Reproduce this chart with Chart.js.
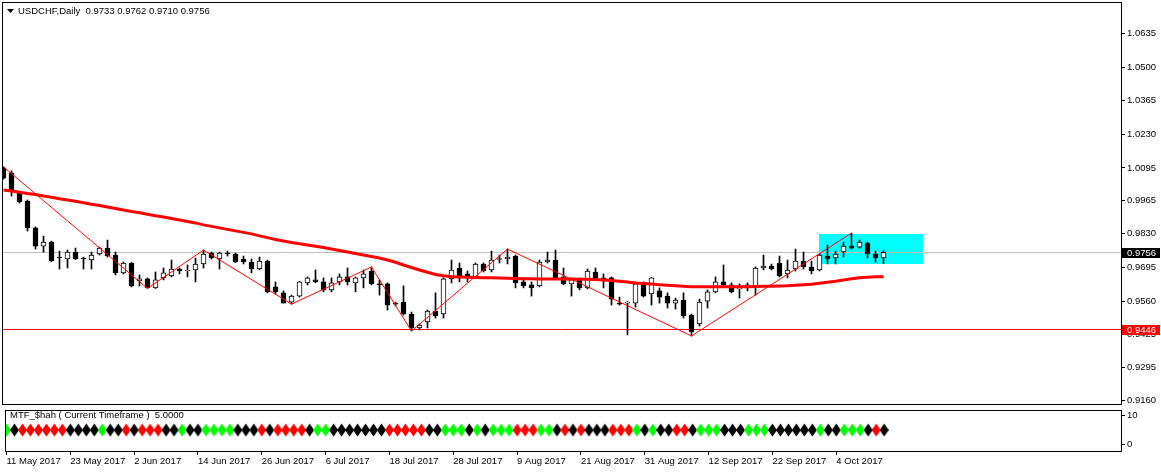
<!DOCTYPE html>
<html>
<head>
<meta charset="utf-8">
<script src="https://cdn.jsdelivr.net/npm/chart.js@4.4.1/dist/chart.umd.min.js"></script>
<style>
  html, body { margin: 0; padding: 0; background: #fff; }
  #wrap { position: relative; width: 1161px; height: 472px; overflow: hidden; background: #fff; }
  #main { position: absolute; left: 0; top: 0; }
  #sub { position: absolute; left: 0; top: 405px; }
</style>
</head>
<body>
<div id="wrap">
  <canvas id="main" width="1161" height="405"></canvas>
  <canvas id="sub" width="1161" height="67"></canvas>
</div>
<script>
// USDCHF daily bars, 11 May 2017 .. 12 Oct 2017
const open = [
  1.0095, 1.0075, 0.9994, 0.9962, 0.9854, 0.9781, 0.9797, 0.9735, 0.9729, 0.9757,
  0.9730, 0.9725, 0.9749, 0.9773, 0.9745, 0.9673, 0.9713, 0.9641, 0.9649, 0.9613,
  0.9653, 0.9661, 0.9689, 0.9681, 0.9685, 0.9709, 0.9753, 0.9729, 0.9753, 0.9749,
  0.9729, 0.9717, 0.9689, 0.9721, 0.9617, 0.9593, 0.9556, 0.9580, 0.9633, 0.9645,
  0.9637, 0.9605, 0.9637, 0.9657, 0.9633, 0.9653, 0.9681, 0.9629, 0.9629, 0.9552,
  0.9556, 0.9508, 0.9452, 0.9476, 0.9520, 0.9508, 0.9649, 0.9693, 0.9669, 0.9657,
  0.9709, 0.9685, 0.9727, 0.9729, 0.9741, 0.9637, 0.9625, 0.9621, 0.9717, 0.9725,
  0.9657, 0.9629, 0.9645, 0.9613, 0.9677, 0.9653, 0.9653, 0.9552, 0.9552, 0.9552,
  0.9633, 0.9589, 0.9601, 0.9580, 0.9552, 0.9564, 0.9504, 0.9468, 0.9560, 0.9597,
  0.9637, 0.9625, 0.9609, 0.9613, 0.9621, 0.9693, 0.9701, 0.9713, 0.9669, 0.9689,
  0.9721, 0.9697, 0.9685, 0.9741, 0.9733, 0.9757, 0.9781, 0.9777, 0.9793, 0.9749,
  0.9733
];
const high = [
  1.0099, 1.0083, 0.9998, 0.9966, 0.9858, 0.9821, 0.9801, 0.9761, 0.9765, 0.9773,
  0.9737, 0.9757, 0.9777, 0.9805, 0.9757, 0.9717, 0.9715, 0.9665, 0.9653, 0.9677,
  0.9693, 0.9725, 0.9693, 0.9705, 0.9733, 0.9765, 0.9757, 0.9757, 0.9761, 0.9753,
  0.9741, 0.9729, 0.9737, 0.9725, 0.9637, 0.9601, 0.9584, 0.9639, 0.9657, 0.9685,
  0.9653, 0.9653, 0.9669, 0.9693, 0.9657, 0.9685, 0.9697, 0.9645, 0.9633, 0.9556,
  0.9621, 0.9516, 0.9468, 0.9524, 0.9593, 0.9653, 0.9725, 0.9713, 0.9681, 0.9713,
  0.9713, 0.9761, 0.9745, 0.9769, 0.9745, 0.9645, 0.9637, 0.9725, 0.9757, 0.9765,
  0.9693, 0.9653, 0.9653, 0.9689, 0.9693, 0.9669, 0.9657, 0.9576, 0.9558, 0.9637,
  0.9637, 0.9655, 0.9613, 0.9593, 0.9572, 0.9593, 0.9508, 0.9568, 0.9605, 0.9657,
  0.9705, 0.9633, 0.9629, 0.9633, 0.9697, 0.9745, 0.9709, 0.9741, 0.9725, 0.9769,
  0.9757, 0.9721, 0.9749, 0.9785, 0.9761, 0.9797, 0.9833, 0.9805, 0.9797, 0.9761,
  0.9762
];
const low = [
  1.0050, 0.9982, 0.9954, 0.9841, 0.9769, 0.9757, 0.9719, 0.9689, 0.9693, 0.9727,
  0.9689, 0.9689, 0.9745, 0.9737, 0.9665, 0.9669, 0.9617, 0.9621, 0.9611, 0.9611,
  0.9645, 0.9657, 0.9669, 0.9657, 0.9637, 0.9693, 0.9729, 0.9689, 0.9741, 0.9715,
  0.9709, 0.9673, 0.9685, 0.9593, 0.9589, 0.9552, 0.9548, 0.9576, 0.9625, 0.9633,
  0.9597, 0.9597, 0.9625, 0.9625, 0.9597, 0.9613, 0.9625, 0.9584, 0.9524, 0.9540,
  0.9504, 0.9440, 0.9444, 0.9452, 0.9492, 0.9492, 0.9633, 0.9637, 0.9637, 0.9653,
  0.9677, 0.9677, 0.9713, 0.9709, 0.9613, 0.9613, 0.9580, 0.9617, 0.9713, 0.9649,
  0.9625, 0.9580, 0.9605, 0.9609, 0.9645, 0.9613, 0.9544, 0.9544, 0.9424, 0.9536,
  0.9576, 0.9544, 0.9552, 0.9532, 0.9528, 0.9492, 0.9420, 0.9460, 0.9532, 0.9593,
  0.9617, 0.9593, 0.9572, 0.9601, 0.9584, 0.9685, 0.9685, 0.9657, 0.9653, 0.9681,
  0.9689, 0.9669, 0.9681, 0.9709, 0.9709, 0.9737, 0.9769, 0.9773, 0.9733, 0.9717,
  0.9710
];
const close = [
  1.0054, 1.0006, 0.9958, 0.9854, 0.9781, 0.9797, 0.9721, 0.9733, 0.9757, 0.9729,
  0.9729, 0.9745, 0.9773, 0.9741, 0.9673, 0.9713, 0.9621, 0.9649, 0.9613, 0.9645,
  0.9673, 0.9689, 0.9681, 0.9683, 0.9709, 0.9749, 0.9733, 0.9753, 0.9749, 0.9717,
  0.9717, 0.9689, 0.9721, 0.9597, 0.9597, 0.9552, 0.9580, 0.9637, 0.9653, 0.9637,
  0.9605, 0.9633, 0.9657, 0.9637, 0.9653, 0.9669, 0.9629, 0.9625, 0.9544, 0.9548,
  0.9508, 0.9452, 0.9464, 0.9520, 0.9500, 0.9649, 0.9685, 0.9661, 0.9653, 0.9709,
  0.9681, 0.9725, 0.9729, 0.9737, 0.9633, 0.9621, 0.9613, 0.9717, 0.9725, 0.9653,
  0.9629, 0.9645, 0.9613, 0.9681, 0.9653, 0.9649, 0.9568, 0.9548, 0.9556, 0.9629,
  0.9580, 0.9653, 0.9576, 0.9552, 0.9564, 0.9500, 0.9436, 0.9556, 0.9597, 0.9637,
  0.9625, 0.9597, 0.9613, 0.9625, 0.9693, 0.9701, 0.9689, 0.9661, 0.9685, 0.9721,
  0.9697, 0.9681, 0.9745, 0.9729, 0.9749, 0.9781, 0.9773, 0.9797, 0.9749, 0.9733,
  0.9756
];
// moving average (thick red line)
const movingAvg = [
  1.0006, 1.0002, 0.9997, 0.9992, 0.9988, 0.9982, 0.9977, 0.9971, 0.9966, 0.9961,
  0.9955, 0.9949, 0.9944, 0.9938, 0.9932, 0.9926, 0.9920, 0.9915, 0.9909, 0.9903,
  0.9898, 0.9892, 0.9886, 0.9880, 0.9874, 0.9866, 0.9860, 0.9854, 0.9848, 0.9842,
  0.9836, 0.9830, 0.9822, 0.9815, 0.9807, 0.9801, 0.9795, 0.9790, 0.9785, 0.9780,
  0.9775, 0.9769, 0.9763, 0.9757, 0.9751, 0.9745, 0.9739, 0.9733, 0.9725, 0.9716,
  0.9705, 0.9695, 0.9685, 0.9676, 0.9667, 0.9662, 0.9658, 0.9657, 0.9656, 0.9655,
  0.9654, 0.9654, 0.9653, 0.9652, 0.9651, 0.9650, 0.9650, 0.9649, 0.9649, 0.9649,
  0.9649, 0.9649, 0.9648, 0.9648, 0.9647, 0.9645, 0.9643, 0.9640, 0.9637, 0.9633,
  0.9631, 0.9629, 0.9626, 0.9624, 0.9622, 0.9620, 0.9618, 0.9618, 0.9618, 0.9618,
  0.9618, 0.9618, 0.9618, 0.9618, 0.9619, 0.9620, 0.9620, 0.9621, 0.9622, 0.9624,
  0.9626, 0.9628, 0.9632, 0.9636, 0.9640, 0.9645, 0.9650, 0.9654, 0.9656, 0.9658,
  0.9658
];
// zigzag turning bars and whether they sit on the high or the low
const zigzagBars = [0, 18, 25, 36, 46, 51, 63, 86, 106];
const zigzagSide = ['h', 'l', 'h', 'l', 'h', 'l', 'h', 'l', 'h'];

// MTF_$hah signal per bar: g = green, r = red, k = black
const signalColors = [
  'g','k','r','r','r','r','r','r','k','k',
  'k','k','g','k','k','r','k','r','r','r',
  'k','k','g','k','k','g','g','g','g','k',
  'k','k','r','k','r','r','r','r','k','g',
  'g','k','k','k','k','k','k','k','r','r',
  'r','r','r','k','k','g','g','g','k','g',
  'k','g','g','g','r','r','r','g','g','k',
  'r','k','r','k','k','k','r','r','r','g',
  'k','g','k','k','r','r','k','g','g','g',
  'k','k','k','g','g','g','k','k','k','k',
  'k','k','g','k','k','g','g','g','k','r',
  'k'
];
const signalLevel = 5;

const priceTicks = [0.9160, 0.9295, 0.9425, 0.9560, 0.9695, 0.9830, 0.9965, 1.0095, 1.0230, 1.0365, 1.0500, 1.0635];
const subTicks = [0, 10];
const dateTicks = [0, 8, 16, 24, 32, 40, 48, 56, 64, 72, 80, 88, 96, 104];
const dateLabels = ['11 May 2017', '23 May 2017', '2 Jun 2017', '14 Jun 2017', '26 Jun 2017', '6 Jul 2017',
  '18 Jul 2017', '28 Jul 2017', '9 Aug 2017', '21 Aug 2017', '31 Aug 2017', '12 Sep 2017', '22 Sep 2017', '4 Oct 2017'];

const bidPrice = 0.9756;
const levelPrice = 0.9446;
const boxBars = [101.9, 114.9];
const boxPrices = [0.9708, 0.9830];

const symbolTitle = 'USDCHF,Daily';
const subTitle = 'MTF_$hah ( Current Timeframe )';

// view window: 8 px per bar
const xMin = -0.1875, xMax = 139.6875;
const FONT = '"Liberation Sans", Arial, "DejaVu Sans", sans-serif';

Chart.defaults.font.family = FONT;
Chart.defaults.font.size = 9.5;
Chart.defaults.color = '#000';

const last = close.length - 1;
const idx = close.map((_, i) => i);
const isUp = idx.map(i => close[i] >= open[i]);

// keep the plot frame where it is: no extra room for half tick labels
function noPad(s) {
  s.paddingTop = 0; s.paddingBottom = 0; s.paddingLeft = 0; s.paddingRight = 0;
}

function hline(ctx, area, yp) {
  const yy = Math.round(yp) + 0.5;
  ctx.beginPath();
  ctx.moveTo(area.left, yy);
  ctx.lineTo(area.right, yy);
  ctx.stroke();
}

function axisBox(ctx, area, yp, bg, text) {
  const y0 = Math.round(yp) - 4;
  ctx.fillStyle = bg;
  ctx.fillRect(area.right + 1, y0, 38, 10);
  ctx.fillStyle = '#fff';
  ctx.textBaseline = 'middle';
  ctx.textAlign = 'left';
  ctx.fillText(text, area.right + 6, y0 + 5);
}

const mainDecor = {
  id: 'mainDecor',
  beforeDatasetsDraw(chart) {
    const { ctx, chartArea: a, scales: { x, y } } = chart;
    ctx.save();
    const bx0 = Math.round(x.getPixelForValue(boxBars[0]));
    const bx1 = Math.round(x.getPixelForValue(boxBars[1]));
    const by0 = Math.round(y.getPixelForValue(boxPrices[1]));
    const by1 = Math.round(y.getPixelForValue(boxPrices[0]));
    ctx.fillStyle = '#00ffff';
    ctx.fillRect(bx0, by0, bx1 - bx0, by1 - by0);
    ctx.lineWidth = 1;
    ctx.strokeStyle = '#c0c0c0';
    hline(ctx, a, y.getPixelForValue(bidPrice));
    ctx.strokeStyle = '#ff0000';
    hline(ctx, a, y.getPixelForValue(levelPrice));
    ctx.restore();
  },
  afterDraw(chart) {
    const { ctx, chartArea: a, scales: { y } } = chart;
    ctx.save();
    ctx.strokeStyle = '#000';
    ctx.lineWidth = 1;
    ctx.strokeRect(a.left + 0.5, a.top + 0.5, a.right - a.left, a.bottom - a.top);

    // title with the last bar's OHLC
    ctx.fillStyle = '#000';
    ctx.beginPath();
    ctx.moveTo(7, 9); ctx.lineTo(14, 9); ctx.lineTo(10.5, 13);
    ctx.closePath(); ctx.fill();
    ctx.font = '9.5px ' + FONT;
    ctx.textBaseline = 'middle';
    ctx.textAlign = 'left';
    const ohlc = [open[last], high[last], low[last], close[last]].map(v => v.toFixed(4)).join(' ');
    ctx.fillText(symbolTitle + '  ' + ohlc, 18, 11);

    axisBox(ctx, a, y.getPixelForValue(bidPrice), '#000', bidPrice.toFixed(4));
    axisBox(ctx, a, y.getPixelForValue(levelPrice), '#ff0000', levelPrice.toFixed(4));
    ctx.restore();
  }
};

new Chart(document.getElementById('main'), {
  type: 'bar',
  data: {
    datasets: [
      {
        label: 'wick',
        data: idx.map(i => ({ x: i, y: [low[i], high[i]] })),
        backgroundColor: '#000',
        borderWidth: 0,
        barThickness: 1,
        grouped: false,
        order: 3
      },
      {
        label: 'body',
        data: idx.map(i => ({ x: i, y: [open[i], close[i]] })),
        backgroundColor: idx.map(i => isUp[i] ? '#fff' : '#000'),
        borderColor: '#000',
        borderWidth: 1,
        borderSkipped: false,
        barThickness: 5,
        minBarLength: 1,
        grouped: false,
        order: 2
      },
      {
        type: 'line',
        label: 'MA',
        data: idx.map(i => ({ x: i, y: movingAvg[i] })),
        borderColor: '#ff0000',
        borderWidth: 3,
        pointRadius: 0,
        tension: 0,
        order: 1
      },
      {
        type: 'line',
        label: 'ZigZag',
        data: zigzagBars.map((b, k) => ({ x: b, y: zigzagSide[k] === 'h' ? high[b] : low[b] })),
        borderColor: '#ff0000',
        borderWidth: 1,
        pointRadius: 0,
        tension: 0,
        order: 0
      }
    ]
  },
  options: {
    responsive: false,
    animation: false,
    events: [],
    layout: { padding: { left: 2, top: 2, right: 0, bottom: 1 } },
    plugins: { legend: { display: false }, tooltip: { enabled: false } },
    scales: {
      x: { type: 'linear', min: xMin, max: xMax, display: false, offset: false },
      y: {
        position: 'right',
        min: 0.91467,
        max: 1.07612,
        afterBuildTicks: s => { s.ticks = priceTicks.map(v => ({ value: v })); },
        afterFit: s => { s.width = 40; noPad(s); },
        ticks: { callback: v => v.toFixed(4), padding: 2, autoSkip: false },
        grid: { drawOnChartArea: false, drawTicks: true, tickLength: 4, color: '#000' },
        border: { display: false }
      }
    }
  },
  plugins: [mainDecor]
});

// diamond markers of the sub window
function diamond(color) {
  const c = document.createElement('canvas');
  c.width = 9; c.height = 14;
  const g = c.getContext('2d');
  g.fillStyle = color;
  g.beginPath();
  g.moveTo(4.5, 0.5); g.lineTo(9, 7); g.lineTo(4.5, 13.5); g.lineTo(0, 7);
  g.closePath(); g.fill();
  return c;
}
const marks = { g: diamond('#00ff00'), r: diamond('#ff0000'), k: diamond('#000000') };

const subDecor = {
  id: 'subDecor',
  afterDraw(chart) {
    const { ctx, chartArea: a } = chart;
    ctx.save();
    ctx.strokeStyle = '#000';
    ctx.lineWidth = 1;
    ctx.strokeRect(a.left + 0.5, a.top + 0.5, a.right - a.left, a.bottom - a.top);
    ctx.fillStyle = '#000';
    ctx.font = '9.5px ' + FONT;
    ctx.textBaseline = 'middle';
    ctx.textAlign = 'left';
    ctx.fillText(subTitle + '  ' + signalLevel.toFixed(4), 10, 10);
    ctx.restore();
  }
};

new Chart(document.getElementById('sub'), {
  type: 'scatter',
  data: {
    datasets: [{
      label: 'MTF_$hah',
      data: idx.map(i => ({ x: i, y: signalLevel })),
      pointStyle: signalColors.map(c => marks[c]),
      pointRadius: 4,
      showLine: false
    }]
  },
  options: {
    responsive: false,
    animation: false,
    events: [],
    layout: { padding: { left: 2, top: 1, right: 0, bottom: 0 } },
    plugins: { legend: { display: false }, tooltip: { enabled: false } },
    scales: {
      x: {
        type: 'linear',
        min: xMin,
        max: xMax,
        offset: false,
        afterBuildTicks: s => { s.ticks = dateTicks.map(v => ({ value: v })); },
        afterFit: s => { s.height = 21; noPad(s); },
        ticks: {
          callback: v => dateLabels[dateTicks.indexOf(v)],
          align: 'start',
          autoSkip: false,
          maxRotation: 0,
          padding: 1
        },
        grid: { drawOnChartArea: false, drawTicks: true, tickLength: 4, color: '#000' },
        border: { display: false }
      },
      y: {
        position: 'right',
        min: -2.1875,
        max: 11.875,
        afterBuildTicks: s => { s.ticks = subTicks.map(v => ({ value: v })); },
        afterFit: s => { s.width = 40; noPad(s); },
        ticks: { padding: 2, autoSkip: false },
        grid: { drawOnChartArea: false, drawTicks: true, tickLength: 4, color: '#000' },
        border: { display: false }
      }
    }
  },
  plugins: [subDecor]
});
</script>
</body>
</html>
